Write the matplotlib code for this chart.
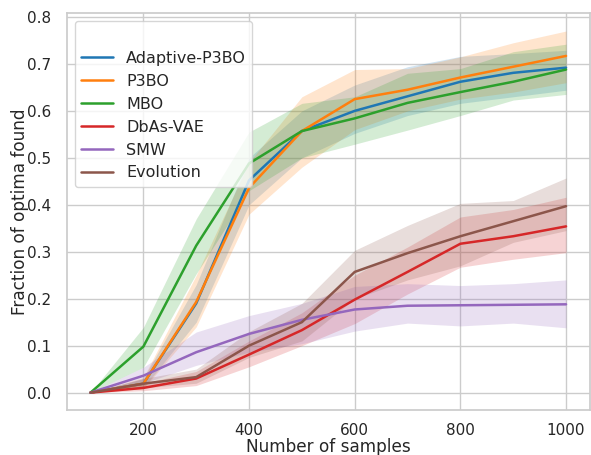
import matplotlib
matplotlib.use("Agg")
import matplotlib.pyplot as plt
from matplotlib.lines import Line2D
import seaborn as sns

sns.set_theme(style="whitegrid", context="notebook")
plt.rcParams['font.family'] = ['DejaVu Sans']

samples = [100, 200, 300, 400, 500, 600, 700, 800, 900, 1000]
methods = ["Adaptive-P3BO", "P3BO", "MBO", "DbAs-VAE", "SMW", "Evolution"]
colors = ["#1f77b4", "#ff7f0e", "#2ca02c", "#d62728", "#9467bd", "#8c564b"]

adaptive_mean = [0, 0.019, 0.19, 0.452, 0.557, 0.600, 0.631, 0.662, 0.681, 0.692]
adaptive_low = [0, 0.010, 0.15, 0.400, 0.500, 0.552, 0.590, 0.616, 0.630, 0.644]
adaptive_high = [0, 0.030, 0.23, 0.500, 0.600, 0.655, 0.694, 0.716, 0.722, 0.729]

p3bo_mean = [0, 0.019, 0.193, 0.436, 0.557, 0.625, 0.645, 0.671, 0.694, 0.717]
p3bo_low = [0, 0.008, 0.140, 0.380, 0.480, 0.560, 0.600, 0.625, 0.640, 0.660]
p3bo_high = [0, 0.032, 0.250, 0.490, 0.630, 0.688, 0.690, 0.715, 0.745, 0.770]

mbo_mean = [0, 0.098, 0.313, 0.488, 0.557, 0.584, 0.617, 0.640, 0.662, 0.688]
mbo_low = [0, 0.054, 0.253, 0.430, 0.500, 0.529, 0.559, 0.590, 0.623, 0.635]
mbo_high = [0, 0.139, 0.370, 0.555, 0.616, 0.630, 0.680, 0.690, 0.726, 0.742]

dbas_mean = [0, 0.010, 0.030, 0.081, 0.133, 0.198, 0.257, 0.317, 0.333, 0.354]
dbas_low = [0, 0.004, 0.015, 0.055, 0.100, 0.147, 0.210, 0.267, 0.284, 0.298]
dbas_high = [0, 0.020, 0.045, 0.110, 0.170, 0.250, 0.310, 0.374, 0.390, 0.416]

smw_mean = [0, 0.036, 0.086, 0.125, 0.155, 0.177, 0.185, 0.186, 0.187, 0.188]
smw_low = [0, 0.020, 0.058, 0.086, 0.104, 0.131, 0.148, 0.142, 0.148, 0.138]
smw_high = [0, 0.054, 0.129, 0.164, 0.190, 0.226, 0.232, 0.228, 0.232, 0.240]

evo_mean = [0, 0.019, 0.033, 0.100, 0.150, 0.257, 0.297, 0.333, 0.365, 0.397]
evo_low = [0, 0.010, 0.020, 0.075, 0.110, 0.200, 0.240, 0.270, 0.320, 0.345]
evo_high = [0, 0.030, 0.050, 0.130, 0.190, 0.303, 0.356, 0.403, 0.409, 0.457]

series = [
    (adaptive_mean, adaptive_low, adaptive_high),
    (p3bo_mean, p3bo_low, p3bo_high),
    (mbo_mean, mbo_low, mbo_high),
    (dbas_mean, dbas_low, dbas_high),
    (smw_mean, smw_low, smw_high),
    (evo_mean, evo_low, evo_high),
]

fig = plt.figure(figsize=(5.91, 4.55), dpi=100)
ax = fig.add_axes([0.113, 0.100, 0.885, 0.871])

handles = [Line2D([], [], color="none", label=" ")]
for name, color, (m, lo, hi) in zip(methods, colors, series):
    ax.fill_between(samples, lo, hi, color=color, alpha=0.2, linewidth=0)
    line, = ax.plot(samples, m, color=color, linewidth=1.8, label=name)
    handles.append(line)

ax.set_xlim(55, 1045)
ax.set_ylim(-0.036, 0.808)
ax.set_xticks([200, 400, 600, 800, 1000])
ax.set_yticks([0.0, 0.1, 0.2, 0.3, 0.4, 0.5, 0.6, 0.7, 0.8])
ax.tick_params(axis="x", labelsize=11, pad=3.5)
ax.tick_params(axis="y", labelsize=11, pad=5)
ax.set_xlabel("Number of samples", fontsize=12.2, labelpad=0.5)
ax.set_ylabel("Fraction of optima found", fontsize=12.2)
ax.yaxis.set_label_coords(-0.073, 0.5)

ax.legend(handles=handles, labels=[h.get_label() for h in handles],
          loc="upper left", fontsize=11.5, frameon=True, labelspacing=0.5)

fig.savefig("out.png", dpi=100)
